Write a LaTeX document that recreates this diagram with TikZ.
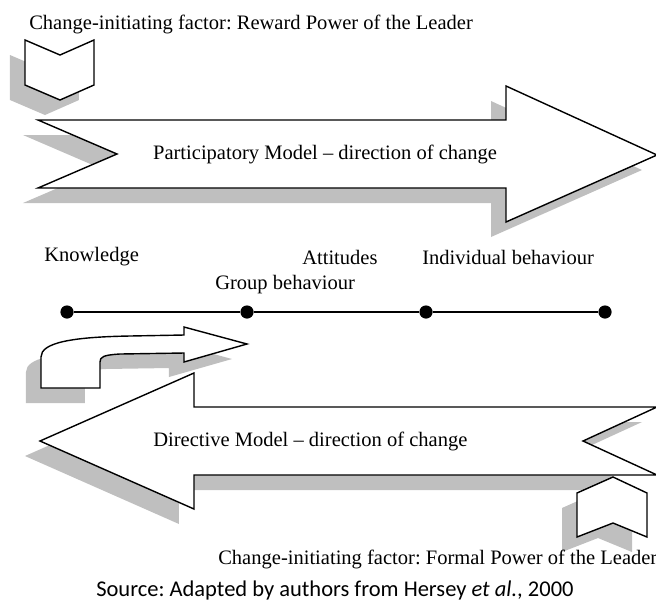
\documentclass[tikz,border=0pt]{standalone}
\usepackage{fontspec}
\setmainfont{Liberation Serif}
\newfontfamily\sourcefont{Carlito}
\usepackage{tikz}
\usetikzlibrary{shadows}
\frenchspacing
\tikzset{
    block arrow/.style={
        draw=black, fill=white, line width=1pt, line join=miter,
        drop shadow={shadow xshift=-0.375cm, shadow yshift=-0.375cm, fill=black!25, opacity=1}
    },
    stage dot/.style={circle, fill=black, inner sep=0pt, minimum size=0.33cm},
    label text/.style={font=\fontsize{14.6}{16}\selectfont, inner sep=0pt},
}

\begin{document}
\begin{tikzpicture}[x=0.025cm, y=-0.025cm]
\useasboundingbox (0,0) rectangle (656,601);
\clip (0,0) rectangle (656,601);

\draw[block arrow] (38,120) -- (506,120) -- (506,86) -- (657,155) -- (506,222) -- (506,188) -- (38,188) -- (117,154) -- cycle;
\draw[block arrow] (25,40) -- (60,55) -- (94,40) -- (94,85) -- (60,100) -- (25,85) -- cycle;

\draw[block arrow] (40,441) -- (194,373) -- (194,407) -- (657,407) -- (583,441) -- (657,475) -- (194,475) -- (194,509) -- cycle;
\draw[block arrow] (184,335) -- (184,327) -- (247,344) -- (184,362) -- (184,353) -- (120,354) .. controls (103,355) and (100,357) .. (100,362) -- (100,388) -- (41,388) -- (41,357) .. controls (41,343) and (70,337) .. (130,336) -- cycle;
\draw[block arrow] (613,477) -- (647,493) -- (647,537) -- (613,523) -- (577,537) -- (577,493) -- cycle;

\node[stage dot] (s1) at (67,312) {};
\node[stage dot] (s2) at (247,312) {};
\node[stage dot] (s3) at (426,312) {};
\node[stage dot] (s4) at (605,312) {};
\draw[line width=1.2pt] (s1) -- (s2) -- (s3) -- (s4);

\node[label text, anchor=west] (reward) at (29,24) {Change-initiating factor: Reward Power of the Leader};
\node[label text] (participatory) at (325,154) {Participatory Model – direction of change};
\node[label text, anchor=west] (knowledge) at (44,257) {Knowledge};
\node[label text, anchor=west] (attitudes) at (302,257) {Attitudes};
\node[label text, anchor=west] (individual) at (422,257) {Individual behaviour};
\node[label text, anchor=west] (group) at (215,285) {Group behaviour};
\node[label text, anchor=west] (directive) at (153,441) {Directive Model – direction of change};
\node[label text, anchor=west] (formal) at (218,559) {Change-initiating factor: Formal Power of the Leader};
\node[font=\sourcefont\fontsize{16}{18}\selectfont, inner sep=0pt, anchor=west] (source) at (96,590) {Source: Adapted by authors from Hersey \textit{et al.}, 2000};
\end{tikzpicture}
\end{document}
